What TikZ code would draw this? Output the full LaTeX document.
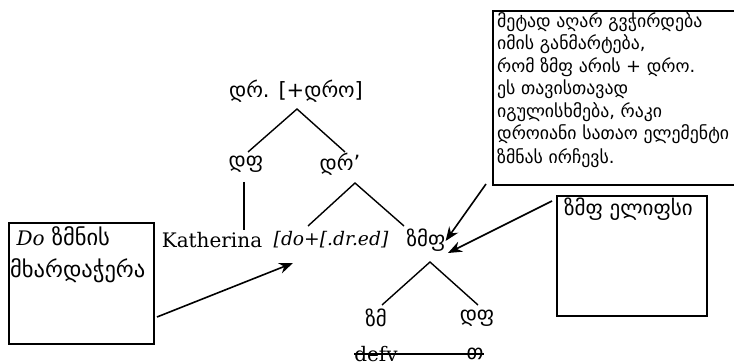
\documentclass[tikz,border=0pt]{standalone}
\usepackage{fontspec}
\newfontfamily\geo{DejaVu Sans}
\newfontfamily\lat{DejaVu Serif}
\usetikzlibrary{arrows.meta}
\begin{document}
\begin{tikzpicture}[x=1pt,y=-1pt,
  lbl/.style={inner sep=0pt, font=\geo\fontsize{21}{24}\selectfont},
  latin/.style={inner sep=0pt, font=\lat\fontsize{20}{24}\selectfont},
  latit/.style={inner sep=0pt, font=\lat\fontsize{18.7}{24}\selectfont\itshape},
  branch/.style={line width=1.4pt},
  box/.style={draw, line width=1.8pt, inner sep=0pt},
  arr/.style={line width=1.6pt, -{Stealth[length=14pt,width=11pt]}}]
\useasboundingbox (0,0) rectangle (734,363);
% boxes
\node[box, anchor=north west, minimum width=270pt, minimum height=174pt] (note) at (492,10) {};
\node[lbl, anchor=north west, align=left, font=\geo\fontsize{17.8}{22.5}\selectfont] (notetext) at (497,12)
 {მეტად აღარ გვჭირდება\\იმის განმარტება,\\რომ ზმფ არის  + დრო.\\ეს თავისთავად\\იგულისხმება, რაკი\\დროიანი სათაო ელემენტი\\[1.5pt]ზმნას ირჩევს.};
\node[box, anchor=north west, minimum width=150pt, minimum height=120pt] (ebox) at (556,195) {};
\node[lbl, anchor=north west] (etext) at (564,198) {ზმფ ელიფსი};
\node[box, anchor=north west, minimum width=145pt, minimum height=121pt] (lbox) at (8,222) {};
\node[lbl, anchor=north west, align=left, font=\geo\fontsize{22.5}{32}\selectfont] (ltext) at (10,226)
 {{\lat\itshape\fontsize{20}{24}\selectfont\ Do} ზმნის\\მხარდაჭერა};
% tree
\node[lbl] (dr) at (296,91) {დრ. [+დრო]};
\node[lbl] (df) at (246,164) {დფ};
\node[lbl] (drp) at (340,164) {დრ’};
\node[latin] (kath) at (212,240) {Katherina};
\node[latit] (do) at (331,240) {[do+[.dr.ed]};
\node[lbl] (zmf) at (426,240) {ზმფ};
\node[lbl] (zm) at (376,318) {ზმ};
\node[lbl] (df2) at (477,318) {დფ};
\node[latin] (defv) at (376,354) {defv};
\node[lbl] (t) at (475,354) {თ};
\coordinate (a0) at (297,109);
\coordinate (a1) at (248,152);
\coordinate (a2) at (345,152);
\draw[branch] (a1) -- (a0) -- (a2);
\coordinate (k0) at (244,182);
\coordinate (k1) at (244,230);
\draw[branch] (k0) -- (k1);
\coordinate (b0) at (355,183);
\coordinate (b1) at (308,226);
\coordinate (b2) at (404,226);
\draw[branch] (b1) -- (b0) -- (b2);
\coordinate (c0) at (430,262);
\coordinate (c1) at (382,305);
\coordinate (c2) at (478,305);
\draw[branch] (c1) -- (c0) -- (c2);
\draw[branch] (defv.west) -- (t.east);
% arrows
\coordinate (n0) at (486,184);
\coordinate (e0) at (552,201);
\coordinate (l0) at (157,317);
\draw[arr] (n0) -- (zmf.east |- 0,241) ;
\draw[arr] (e0) -- (448,253);
\draw[arr] (l0) -- (293,263);
\end{tikzpicture}
\end{document}
